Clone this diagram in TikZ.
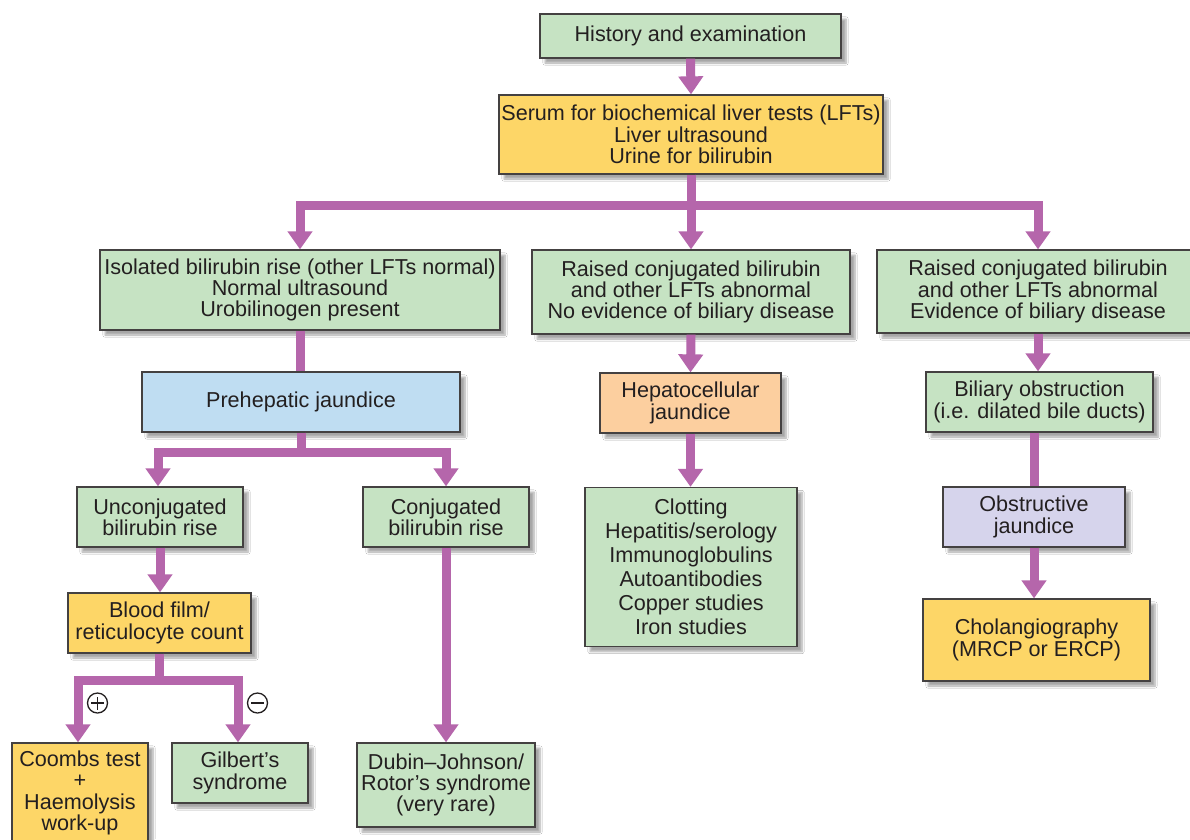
\documentclass[tikz,border=0pt]{standalone}
\usepackage{fontspec}
\setmainfont{Liberation Sans}
\usetikzlibrary{arrows.meta,shadows.blur}
\definecolor{bgreen}{HTML}{C6E3C3}
\definecolor{byellow}{HTML}{FDD667}
\definecolor{bblue}{HTML}{BFDDF2}
\definecolor{borange}{HTML}{FCCF9F}
\definecolor{blav}{HTML}{D6D4EC}
\definecolor{conn}{HTML}{B566AB}
\definecolor{txt}{HTML}{231F20}
\begin{document}
\begin{tikzpicture}[x=1pt,y=1pt,
  box/.style={draw=txt!85,line width=1.3pt,inner sep=0pt,align=center,text=txt,
    font=\fontsize{21.6}{21.3}\selectfont,
    blur shadow={shadow xshift=5pt,shadow yshift=-5pt,shadow blur steps=6,shadow opacity=35}},
  gbox/.style={box,fill=bgreen},
  ybox/.style={box,fill=byellow},
  line/.style={draw=conn,line width=9pt},
  arr/.style={line,-{Triangle[width=24pt,length=18pt]}},
  sign/.style={draw=txt,line width=1.3pt,circle,minimum size=20pt,inner sep=0pt},
  signbar/.style={draw=txt,line width=1.3pt}]
\useasboundingbox[fill=white] (0,0) rectangle (1190,-839);
% nodes
\node[gbox,minimum width=301pt,minimum height=44pt] (he) at (690.5,-36) {History and examination};
\node[ybox,minimum width=384pt,minimum height=79pt] (serum) at (691,-134.5) {Serum for biochemical liver tests (LFTs)\\Liver ultrasound\\Urine for bilirubin};
\node[gbox,minimum width=400pt,minimum height=80pt] (iso) at (300,-290) {Isolated bilirubin rise (other LFTs normal)\\Normal ultrasound\\Urobilinogen present};
\node[gbox,minimum width=318pt,minimum height=84pt] (noev) at (691,-292) {Raised conjugated bilirubin\\and other LFTs abnormal\\No evidence of biliary disease};
\node[gbox,minimum width=322pt,minimum height=83pt] (ev) at (1038,-291.5) {Raised conjugated bilirubin\\and other LFTs abnormal\\Evidence of biliary disease};
\node[box,fill=bblue,minimum width=318pt,minimum height=60pt] (pre) at (301,-402) {Prehepatic jaundice};
\node[box,fill=borange,minimum width=181pt,minimum height=60pt] (hep) at (690.5,-403) {Hepatocellular\\jaundice};
\node[gbox,minimum width=227pt,minimum height=60pt] (bil) at (1039.5,-402) {Biliary obstruction\\(i.e. dilated bile ducts)};
\node[gbox,minimum width=166pt,minimum height=60pt] (unc) at (160,-517) {Unconjugated\\bilirubin rise};
\node[gbox,minimum width=166pt,minimum height=60pt] (conj) at (446,-517) {Conjugated\\bilirubin rise};
\node[gbox,minimum width=212pt,minimum height=159pt,font=\fontsize{21.6}{24}\selectfont] (clot) at (691,-567) {Clotting\\Hepatitis/serology\\Immunoglobulins\\Autoantibodies\\Copper studies\\Iron studies};
\node[box,fill=blav,minimum width=182pt,minimum height=60pt] (obs) at (1034,-517) {Obstructive\\jaundice};
\node[ybox,minimum width=183pt,minimum height=60pt] (blood) at (159.5,-623) {Blood film/\\reticulocyte count};
\node[ybox,minimum width=227pt,minimum height=82pt] (chol) at (1036.5,-640) {Cholangiography\\(MRCP or ERCP)};
\node[ybox,minimum width=136pt,minimum height=100pt] (coombs) at (80,-793) {Coombs test\\+\\Haemolysis\\work-up};
\node[gbox,minimum width=136pt,minimum height=60pt] (gil) at (240,-773) {Gilbert's\\syndrome};
\node[gbox,minimum width=178pt,minimum height=84pt] (dub) at (446,-785) {Dubin--Johnson/\\Rotor's syndrome\\(very rare)};
% connectors
\draw[arr] (he.south) -- (serum.north);
\draw[arr] (serum.south) -- ++(0,-31) -| (iso.north);
\draw[arr] (serum.south) -- ++(0,-31) -| (ev.north);
\draw[arr] (serum.south) -- (noev.north);
\draw[line] (iso.south) -- (iso.south |- pre.north);
\draw[arr] (pre.south) -- ++(0,-20) -| ([xshift=-2pt]unc.north);
\draw[arr] (pre.south) -- ++(0,-20) -| (conj.north);
\draw[arr] (noev.south) -- (hep.north);
\draw[arr] (ev.south) -- (ev.south |- bil.north);
\draw[arr] (hep.south) -- (hep.south |- clot.north);
\draw[line] (obs.north |- bil.south) -- (obs.north);
\draw[arr] (obs.south) -- (obs.south |- chol.north);
\draw[arr] ([xshift=0.5pt]blood.north |- unc.south) -- ([xshift=0.5pt]blood.north);
\draw[arr] (conj.south) -- (dub.north);
\draw[arr] (blood.south) -- ++(0,-27) -| ([xshift=-2pt]coombs.north);
\draw[arr] (blood.south) -- ++(0,-27) -| ([xshift=-2pt]gil.north);
% plus / minus signs
\node[sign] (plus) at (97.5,-703) {};
\draw[signbar] (plus.center) +(-6.5,0) -- +(6.5,0);
\draw[signbar] (plus.center) +(0,-6.5) -- +(0,6.5);
\node[sign] (minus) at (257.5,-703) {};
\draw[signbar] (minus.center) +(-6.5,0) -- +(6.5,0);
\end{tikzpicture}
\end{document}
